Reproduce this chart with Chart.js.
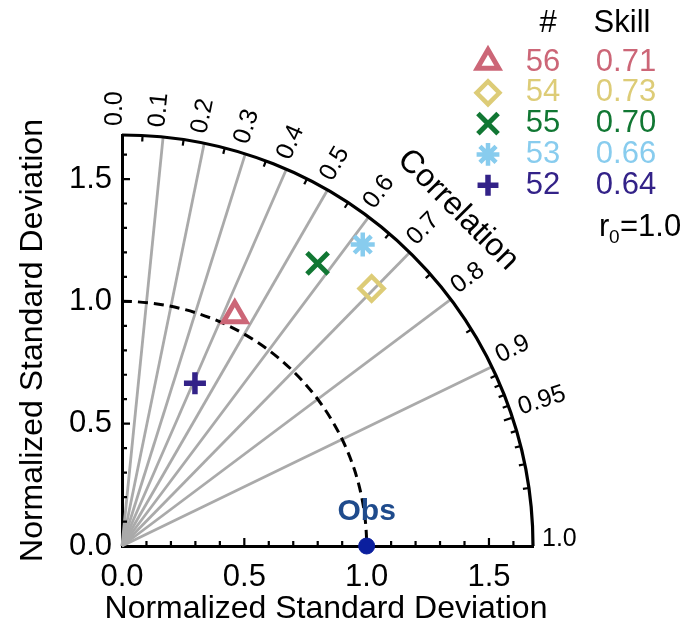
<!DOCTYPE html>
<html>
<head>
<meta charset="utf-8">
<script src="https://cdn.jsdelivr.net/npm/chart.js@4.4.1/dist/chart.umd.min.js"></script>
<style>
  body { margin: 0; background: #fff; }
  canvas { display: block; }
</style>
</head>
<body>
<canvas id="taylor" width="697" height="623"></canvas>
<script>
// model case numbers, skill scores, normalized std and correlation
var caseIds = ['56', '54', '55', '53', '52'];
var skillScores = ['0.71', '0.73', '0.70', '0.66', '0.64'];
var stdRatio = [1.05, 1.466, 1.405, 1.577, 0.729];
var corrCoef = [0.439, 0.696, 0.569, 0.624, 0.409];
var markerStyles = ['triangle', 'rectRot', 'crossRot', 'star', 'cross'];
var markerColors = ['#cc6677', '#ddcc77', '#117733', '#88ccee', '#332288'];
var markerSizes = [13, 12, 15, 12, 11];
var markerWidths = [5, 4.5, 5, 4.5, 5.5];

var rMax = 1.68;
var stdTicks = [0, 0.5, 1.0, 1.5];
var stdMinor = [0.1, 0.2, 0.3, 0.4, 0.6, 0.7, 0.8, 0.9, 1.1, 1.2, 1.3, 1.4, 1.6];
var corrLabels = ['0.0', '0.1', '0.2', '0.3', '0.4', '0.5', '0.6', '0.7', '0.8', '0.9', '0.95', '1.0'];
var corrLines = [0.1, 0.2, 0.3, 0.4, 0.5, 0.6, 0.7, 0.8, 0.9];
var corrTicks = [0.05, 0.15, 0.25, 0.35, 0.45, 0.55, 0.65, 0.75, 0.85,
                 0.91, 0.92, 0.93, 0.94, 0.95, 0.96, 0.97, 0.98, 0.99];
var axisTitle = 'Normalized Standard Deviation';

var FONT = '"Liberation Sans", Arial, Helvetica, sans-serif';

var datasets = [];
for (var i = 0; i < caseIds.length; i++) {
  var s = Math.sqrt(1 - corrCoef[i] * corrCoef[i]);
  datasets.push({
    label: caseIds[i],
    data: [{ x: stdRatio[i] * corrCoef[i], y: stdRatio[i] * s }],
    pointStyle: markerStyles[i],
    pointRadius: markerSizes[i],
    pointBorderWidth: markerWidths[i],
    borderColor: markerColors[i],
    backgroundColor: 'rgba(0,0,0,0)',
    clip: false
  });
}
// reference point
datasets.push({
  label: 'Obs',
  data: [{ x: 1.0, y: 0 }],
  pointStyle: 'circle',
  pointRadius: 8,
  pointBorderWidth: 1,
  borderColor: '#0b1f9e',
  backgroundColor: '#0b1f9e',
  clip: false
});

function drawMarker(ctx, style, x, y, r, lw, color) {
  ctx.save();
  ctx.strokeStyle = color;
  ctx.fillStyle = 'rgba(0,0,0,0)';
  ctx.lineWidth = lw;
  Chart.helpers.drawPoint(ctx, { pointStyle: style, radius: r, rotation: 0, borderWidth: lw }, x, y);
  ctx.restore();
}

var taylorPlugin = {
  id: 'taylor',
  beforeDatasetsDraw: function(chart) {
    var ctx = chart.ctx;
    var xs = chart.scales.x, ys = chart.scales.y;
    var ox = xs.getPixelForValue(0), oy = ys.getPixelForValue(0);
    var R = xs.getPixelForValue(rMax) - ox;
    var unit = xs.getPixelForValue(1) - ox;
    ctx.save();

    // radial correlation lines
    ctx.strokeStyle = '#aaaaaa';
    ctx.lineWidth = 2.8;
    corrLines.forEach(function(c) {
      var a = Math.acos(c);
      ctx.beginPath();
      ctx.moveTo(ox, oy);
      ctx.lineTo(ox + R * Math.cos(a), oy - R * Math.sin(a));
      ctx.stroke();
    });

    // std = 1 arc
    ctx.strokeStyle = '#000';
    ctx.lineWidth = 3;
    ctx.setLineDash([10, 6]);
    ctx.beginPath();
    ctx.arc(ox, oy, unit, -Math.PI / 2, 0);
    ctx.stroke();
    ctx.setLineDash([]);

    // outer arc
    ctx.lineWidth = 3.2;
    ctx.beginPath();
    ctx.arc(ox, oy, R, -Math.PI / 2, 0);
    ctx.stroke();

    // arc ticks (inward)
    ctx.lineWidth = 2.2;
    corrTicks.forEach(function(c) {
      var a = Math.acos(c);
      var len = (c === 0.95) ? 9 : 6;
      ctx.beginPath();
      ctx.moveTo(ox + R * Math.cos(a), oy - R * Math.sin(a));
      ctx.lineTo(ox + (R - len) * Math.cos(a), oy - (R - len) * Math.sin(a));
      ctx.stroke();
    });

    // axis ticks (inward)
    stdTicks.concat(stdMinor).forEach(function(v) {
      if (v === 0) return;
      var len = stdTicks.indexOf(v) >= 0 ? 8 : 5;
      var px = xs.getPixelForValue(v), py = ys.getPixelForValue(v);
      ctx.beginPath();
      ctx.moveTo(px, oy);
      ctx.lineTo(px, oy - len);
      ctx.moveTo(ox, py);
      ctx.lineTo(ox + len, py);
      ctx.stroke();
    });

    // correlation labels
    ctx.fillStyle = '#000';
    ctx.font = '25px ' + FONT;
    ctx.textAlign = 'left';
    ctx.textBaseline = 'alphabetic';
    corrLabels.forEach(function(t) {
      var a = Math.acos(parseFloat(t));
      ctx.save();
      ctx.translate(ox + (R + 9) * Math.cos(a), oy - (R + 9) * Math.sin(a));
      ctx.rotate(-a);
      ctx.fillText(t, 0, 0);
      ctx.restore();
    });

    // "Correlation" title along the arc
    ctx.save();
    ctx.translate(ox + 475 / 411 * R * Math.cos(Math.PI / 4), oy - 475 / 411 * R * Math.sin(Math.PI / 4));
    ctx.rotate(Math.PI / 4);
    ctx.font = '32px ' + FONT;
    ctx.textAlign = 'center';
    ctx.textBaseline = 'middle';
    ctx.fillText('Correlation', 0, 0);
    ctx.restore();

    // x-axis title (drawn here so it is not squeezed to the axis width)
    ctx.font = '32px ' + FONT;
    ctx.fillStyle = '#000';
    ctx.textAlign = 'center';
    ctx.textBaseline = 'alphabetic';
    ctx.fillText(axisTitle, 326, 618);

    // Obs label
    ctx.font = 'bold 30px ' + FONT;
    ctx.fillStyle = '#1f4b8c';
    ctx.textAlign = 'center';
    ctx.textBaseline = 'middle';
    ctx.fillText('Obs', xs.getPixelForValue(1), oy - 34);

    ctx.restore();
  },
  afterDraw: function(chart) {
    var ctx = chart.ctx;
    ctx.save();
    ctx.font = '31px ' + FONT;
    ctx.textAlign = 'center';
    ctx.textBaseline = 'middle';
    ctx.fillStyle = '#000';
    ctx.fillText('#', 548, 23);
    ctx.fillText('Skill', 622, 23);
    for (var i = 0; i < caseIds.length; i++) {
      var y = 62 + i * 30.8;
      drawMarker(ctx, markerStyles[i], 488, y, markerSizes[i] * 0.95, markerWidths[i], markerColors[i]);
      ctx.fillStyle = markerColors[i];
      ctx.fillText(caseIds[i], 543, y);
      ctx.fillText(skillScores[i], 626, y);
    }
    // r0 = 1.0
    ctx.fillStyle = '#000';
    ctx.textAlign = 'left';
    ctx.textBaseline = 'alphabetic';
    ctx.font = '31px ' + FONT;
    ctx.fillText('r', 599, 236);
    ctx.font = '19px ' + FONT;
    ctx.fillText('0', 609, 243);
    ctx.font = '31px ' + FONT;
    ctx.fillText('=1.0', 620, 236);
    ctx.restore();
  }
};

var tickFont = { family: FONT, size: 31 };
var titleFont = { family: FONT, size: 32, lineHeight: 1.0 };

new Chart(document.getElementById('taylor'), {
  type: 'scatter',
  data: { datasets: datasets },
  options: {
    responsive: false,
    animation: false,
    layout: { padding: { top: 135, right: 164, left: 0, bottom: 0 } },
    plugins: { legend: { display: false }, tooltip: { enabled: false } },
    scales: {
      x: {
        type: 'linear', min: 0, max: rMax,
        afterBuildTicks: function(s) { s.ticks = stdTicks.map(function(v) { return { value: v }; }); },
        afterFit: function(s) { s.height = 77; },
        ticks: { font: tickFont, color: '#000', padding: 13, maxRotation: 0,
                 callback: function(v) { return Number(v).toFixed(1); } },
        grid: { drawOnChartArea: false, drawTicks: false },
        border: { display: true, color: '#000', width: 3 },
        title: { display: false }
      },
      y: {
        type: 'linear', min: 0, max: rMax,
        afterBuildTicks: function(s) { s.ticks = stdTicks.map(function(v) { return { value: v }; }); },
        afterFit: function(s) { s.width = 122; },
        ticks: { font: tickFont, color: '#000', padding: 10,
                 callback: function(v) { return Number(v).toFixed(1); } },
        grid: { drawOnChartArea: false, drawTicks: false },
        border: { display: true, color: '#000', width: 3 },
        title: { display: true, text: axisTitle, font: titleFont, color: '#000',
                 padding: { top: 17, bottom: 0 } }
      }
    }
  },
  plugins: [taylorPlugin]
});
</script>
</body>
</html>
